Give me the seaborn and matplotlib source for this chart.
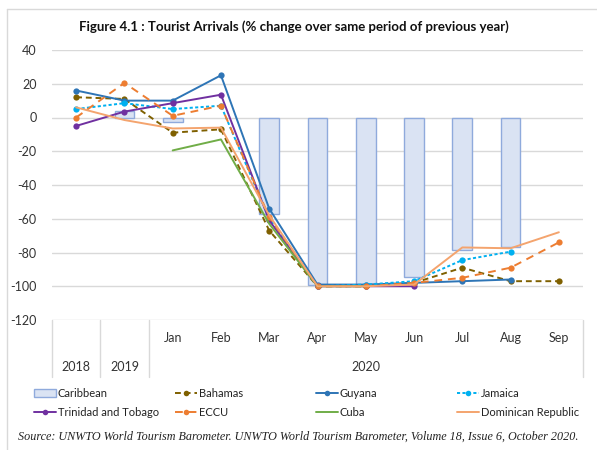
import numpy as np
import pandas as pd
import seaborn as sns
import matplotlib.pyplot as plt
from matplotlib.lines import Line2D
from matplotlib.patches import Patch
from matplotlib.transforms import blended_transform_factory

# data
categories = ['2018', '2019', 'Jan', 'Feb', 'Mar', 'Apr', 'May', 'Jun', 'Jul', 'Aug', 'Sep']
caribbean = [np.nan, 4, -2.5, np.nan, -57, -99, -99, -94.5, -78.5, -76.5, np.nan]
bahamas = [12, 11, -9, -7, -67, -100, -100, -98, -89, -97, -97]
guyana = [16, 10, 10, 25, -54, -99, -99, -98, -97, -96, np.nan]
jamaica = [5, 8.5, 5, 7, -60, -100, -99, -97, -84.5, -79.5, np.nan]
trinidad = [-5, 3.5, 8.5, 13.5, -61, -100, -100, -100, np.nan, np.nan, np.nan]
eccu = [0, 20.5, 1, 7, -59, -100, -100, -98, -95, -89, -74]
cuba = [np.nan, np.nan, -19.5, -13, -63, -100, -100, np.nan, np.nan, np.nan, np.nan]
dominican = [6, -1.5, -6.5, -6, -58, -100, -100, -99, -77, -77.5, -68]

df = pd.DataFrame({
    'pos': range(len(categories)),
    'Caribbean': caribbean,
    'Bahamas': bahamas,
    'Guyana': guyana,
    'Jamaica': jamaica,
    'Trinidad and Tobago': trinidad,
    'ECCU': eccu,
    'Cuba': cuba,
    'Dominican Republic': dominican,
})

sns.set_style('white')
plt.rcParams['font.family'] = ['Lato', 'DejaVu Sans']
plt.rcParams['axes.unicode_minus'] = False

W, H = 597, 450
fig = plt.figure(figsize=(W / 100, H / 100), dpi=100)
ax = fig.add_axes([52 / W, 1 - 320 / H, 531 / W, 270 / H])

# Caribbean bars
bars = df.dropna(subset=['Caribbean'])
sns.barplot(data=bars, x='pos', y='Caribbean', native_scale=True, width=0.41,
            color='#DAE3F3', saturation=1, edgecolor='#8FAADC', linewidth=1,
            errorbar=None, ax=ax, zorder=2)

# country lines: name, colour, linestyle, marker
styles = [
    ('Bahamas', '#7F6000', (0, (3, 2)), 'o'),
    ('Guyana', '#2E75B6', '-', 'o'),
    ('Jamaica', '#00B0F0', (0, (1.6, 1.2)), 'o'),
    ('Trinidad and Tobago', '#7030A0', '-', 'o'),
    ('ECCU', '#ED7D31', (0, (4, 3)), 'o'),
    ('Cuba', '#70AD47', '-', None),
    ('Dominican Republic', '#F4A46E', '-', None),
]
for name, col, ls, mk in styles:
    sub = df.dropna(subset=[name])
    sns.lineplot(data=sub, x='pos', y=name, color=col, linestyle=ls, marker=mk,
                 markersize=4.5, markeredgewidth=0, linewidth=1.4, ax=ax,
                 legend=False, zorder=3)

ax.set_xlim(-0.5, len(categories) - 0.5)
ax.set_ylim(-120, 40)
ax.set_yticks(range(-120, 41, 20))
ax.set_yticklabels([str(v) for v in range(-120, 41, 20)])
ax.set_xticks([])
ax.set_xlabel('')
ax.set_ylabel('')
ax.tick_params(axis='y', length=0, pad=11, labelsize=9, labelcolor='#333333')
ax.grid(axis='y', color='#D9D9D9', linewidth=1)
ax.set_axisbelow(True)
sns.despine(ax=ax, left=True, bottom=True)

# category axis with year grouping
tr = blended_transform_factory(ax.transData, ax.transAxes)
for xd in [-0.5, 0.5, 1.5, len(categories) - 0.5]:
    ax.plot([xd, xd], [0, -0.211], transform=tr, color='#D9D9D9', lw=1, clip_on=False)
for i, lab in enumerate(categories[2:], start=2):
    ax.text(i, -0.067, lab, transform=tr, ha='center', va='center', fontsize=9, color='#333333')
ax.text(0, -0.174, '2018', transform=tr, ha='center', va='center', fontsize=9, color='#333333')
ax.text(1, -0.174, '2019', transform=tr, ha='center', va='center', fontsize=9, color='#333333')
ax.text(6, -0.174, '2020', transform=tr, ha='center', va='center', fontsize=9, color='#333333')

# legend, one block per column
def handle(name):
    for n, col, ls, mk in styles:
        if n == name:
            return Line2D([], [], color=col, linestyle=ls, marker=mk, markersize=4,
                          markeredgewidth=0, linewidth=1.4, label=name)

cols = [
    [Patch(facecolor='#DAE3F3', edgecolor='#8FAADC', label='Caribbean'), handle('Trinidad and Tobago')],
    [handle('Bahamas'), handle('ECCU')],
    [handle('Guyana'), handle('Cuba')],
    [handle('Jamaica'), handle('Dominican Republic')],
]
for k, hs in enumerate(cols):
    fig.legend(handles=hs, loc='upper left', bbox_to_anchor=((34 + 141 * k) / W, 1 - 388 / H),
               frameon=False, fontsize=8, borderpad=0, borderaxespad=0,
               handlelength=2.0, handletextpad=0.15, labelspacing=0.75,
               labelcolor='#222222')

fig.text(294 / W, 1 - 27 / H,
         'Figure 4.1 : Tourist Arrivals (% change over same period of previous year)',
         ha='center', va='center', fontsize=9.5, fontweight='bold', color='#111111')
fig.text(18 / W, 1 - 437 / H,
         'Source: UNWTO World Tourism Barometer. UNWTO World Tourism Barometer, '
         'Volume 18, Issue 6, October 2020.',
         ha='left', va='center', fontsize=8.7, style='italic',
         family='Liberation Serif', color='#222222')

# outer frame lines (left and top)
fig.add_artist(Line2D([7 / W, 7 / W], [0, 1 - 9 / H], transform=fig.transFigure, color='#D9D9D9', lw=1))
fig.add_artist(Line2D([7 / W, 1], [1 - 9 / H, 1 - 9 / H], transform=fig.transFigure, color='#D9D9D9', lw=1))

fig.savefig('out.png', dpi=100)
